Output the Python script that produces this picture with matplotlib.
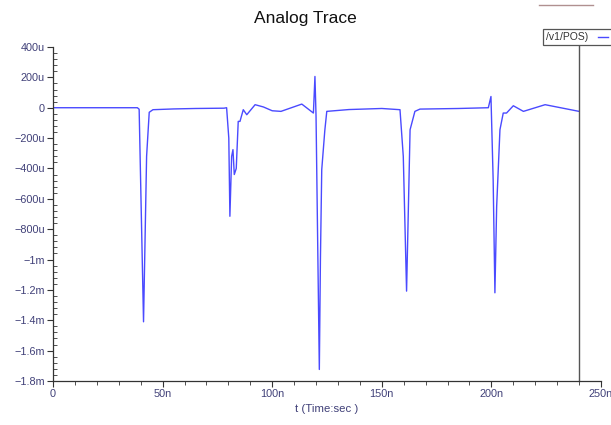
import matplotlib
matplotlib.use('Agg')
import matplotlib.pyplot as plt
from matplotlib.ticker import MultipleLocator, FuncFormatter
from matplotlib.patches import Rectangle
from matplotlib.lines import Line2D

# trace: time in ns, value in micro units
t_ns = [0, 38.5, 39.3, 41.3, 42.7, 43.9, 45.6, 55, 65, 78, 79.2, 80.2, 80.7, 81.5, 82.1, 82.7, 83.6,
        84.5, 85.3, 86.8, 88.4, 92.2, 96, 100, 104, 113.5, 118.8, 119.5, 120.0, 121.5, 122.0, 122.6,
        124.0, 124.9, 135, 150, 158.3, 159.8, 161.3, 162.9, 165.1, 167.4, 185, 198.6, 199.8, 200.8,
        201.6, 202.4, 203.9, 205.4, 206.9, 210, 214.6, 224.5, 240]
v_u = [0, 0, -10, -1410, -320, -30, -13, -8, -5, -3, 0, -200, -715, -320, -276, -440, -400,
       -90, -90, -13, -46, 20, 5, -20, -24, 24, -35, 206, -55, -1724, -1000, -408,
       -150, -24, -12, -5, -13, -320, -1208, -145, -24, -9, -5, 0, 74, -474,
       -1219, -650, -145, -35, -35, 13, -24, 20, -24]

trace_name = '/v1/POS)'
x_ticks = [0, 50, 100, 150, 200, 250]
y_ticks = [400, 200, 0, -200, -400, -600, -800, -1000, -1200, -1400, -1600, -1800]

plt.rcParams['font.family'] = ['Liberation Sans', 'DejaVu Sans']
lab_col = '#404078'
ax_col = '#333333'

W, H = 611, 425
fig = plt.figure(figsize=(W / 100, H / 100), dpi=100)
ax = fig.add_axes([53 / W, 1 - 381 / H, (601 - 53) / W, (381 - 47) / H])

ax.plot(t_ns, v_u, color='#4a4aff', lw=1.0)
ax.set_xlim(0, 250)
ax.set_ylim(-1800, 400)


def fmt_y(v, pos):
    if v == 0:
        return '0'
    if abs(v) >= 1000:
        s = ('%g' % (v / 1000)) + 'm'
    else:
        s = '%gu' % v
    return s.replace('-', '\u2212')


def fmt_x(v, pos):
    return '0' if v == 0 else '%gn' % v


ax.set_xticks(x_ticks)
ax.set_yticks(y_ticks)
ax.xaxis.set_major_formatter(FuncFormatter(fmt_x))
ax.yaxis.set_major_formatter(FuncFormatter(fmt_y))
ax.xaxis.set_minor_locator(MultipleLocator(10))
ax.yaxis.set_minor_locator(MultipleLocator(40))
ax.tick_params(axis='both', which='major', labelsize=7.8, labelcolor=lab_col, color=ax_col,
               length=4, width=0.8, direction='out', pad=2)
ax.tick_params(axis='y', which='minor', direction='in', length=3, width=0.6, color=ax_col)
ax.tick_params(axis='x', which='minor', direction='out', length=3, width=0.6, color=ax_col)

for s in ['top', 'right']:
    ax.spines[s].set_visible(False)
for s in ['left', 'bottom']:
    ax.spines[s].set_color(ax_col)
    ax.spines[s].set_linewidth(0.9)

ax.set_xlabel('t (Time:sec )', fontsize=8.2, color=lab_col, labelpad=3)
fig.text(305 / W, 1 - 18 / H, 'Analog Trace', ha='center', va='center', fontsize=12.5, color='#111111')

# vertical cursor line up to the legend box
ax.axvline(240, ymin=0, ymax=1 + 2 / 334, color='#555555', lw=1.0, clip_on=False)

# legend box in pixel coords
def px(x, y):
    return x / W, 1 - y / H

fig.add_artist(Rectangle(px(543, 45), 70 / W, 16 / H, transform=fig.transFigure,
                         facecolor='white', edgecolor='#555555', lw=0.9))
fig.text(*px(546, 37.5), trace_name, fontsize=7.5, color='#333333', va='center', ha='left')
fig.add_artist(Line2D([598 / W, 608 / W], [1 - 37 / H, 1 - 37 / H], transform=fig.transFigure,
                      color='#4a4aff', lw=1.0))
fig.add_artist(Line2D([539 / W, 593 / W], [1 - 5 / H, 1 - 5 / H], transform=fig.transFigure,
                      color='#b09090', lw=1.0))

fig.savefig('out.png', dpi=100)
